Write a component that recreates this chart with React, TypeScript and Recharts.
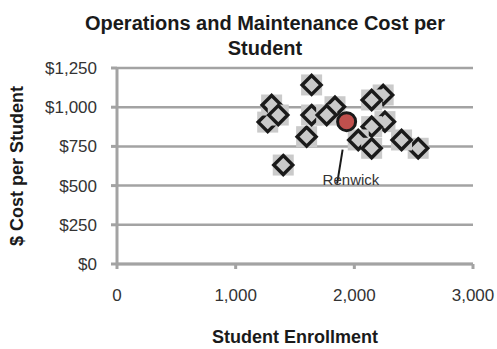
import { ScatterChart, Scatter, XAxis, YAxis, CartesianGrid } from 'recharts';

// district enrollment vs O&M cost per student
const enrollment = [1270, 1303, 1359, 1401, 1598, 1640, 1640, 1837, 1767, 2243, 2146, 2258, 2146, 2033, 2146, 2538, 2398];
const costPerStudent = [905, 1014, 950, 631, 812, 1142, 950, 1003, 950, 1078, 1046, 908, 876, 791, 738, 738, 791];

const highlightName = 'Renwick';
const highlightEnrollment = 1935;
const highlightCost = 908;

const xTicks = [0, 1000, 2000, 3000];
const yTicks = [0, 250, 500, 750, 1000, 1250];

const peers = enrollment.map((x, i) => ({ x, y: costPerStudent[i] }));
const highlight = [{ x: highlightEnrollment, y: highlightCost }];

const FONT = '"Liberation Sans", Arial, sans-serif';
const GRID = '#a3a3a3';

function DiamondMarker(props: any) {
  const { cx, cy } = props;
  const h = 9.5;
  return (
    <g>
      <rect x={cx - 10.5} y={cy - 10.5} width={21} height={21} fill="#cacaca" />
      <polygon
        points={`${cx},${cy - h} ${cx + h},${cy} ${cx},${cy + h} ${cx - h},${cy}`}
        fill="#cacaca"
        stroke="#1a1a1a"
        strokeWidth={3.4}
      />
    </g>
  );
}

function HighlightMarker(props: any) {
  const { cx, cy } = props;
  return (
    <g>
      <circle cx={cx} cy={cy} r={9} fill="#c0504d" stroke="#1a1a1a" strokeWidth={3} />
      <line x1={cx - 4} y1={cy + 28} x2={cx - 9.5} y2={cy + 62} stroke="#1a1a1a" strokeWidth={2} />
      <text x={cx - 24} y={cy + 63} fontSize={15} fontFamily={FONT} fill="#333">
        {highlightName}
      </text>
    </g>
  );
}

export default function App() {
  return (
    <div style={{ position: 'absolute', left: 0, top: 0, background: '#fff' }}>
      <ScatterChart width={497} height={349} margin={{ top: 68, right: 24, bottom: 0, left: 0 }}>
        <text x={265} y={30} textAnchor="middle" fontSize={20} fontWeight="bold" fontFamily={FONT} fill="#1a1a1a">
          Operations and Maintenance Cost per
        </text>
        <text x={265} y={55} textAnchor="middle" fontSize={20} fontWeight="bold" fontFamily={FONT} fill="#1a1a1a">
          Student
        </text>
        <CartesianGrid vertical={false} stroke={GRID} strokeWidth={2.5} />
        <XAxis
          type="number"
          dataKey="x"
          domain={[0, 3000]}
          ticks={xTicks}
          height={85}
          tickSize={5}
          tickMargin={20}
          stroke={GRID}
          strokeWidth={3}
          tick={{ fontSize: 17, fill: '#333', fontFamily: FONT }}
          tickFormatter={(v: number) => v.toLocaleString('en-US')}
          label={{ value: 'Student Enrollment', position: 'insideBottom', offset: 6, style: { fontSize: 18, fontWeight: 'bold', fill: '#1a1a1a', fontFamily: FONT } }}
        />
        <YAxis
          type="number"
          dataKey="y"
          domain={[0, 1250]}
          ticks={yTicks}
          width={117}
          tickSize={6}
          tickMargin={14}
          stroke={GRID}
          strokeWidth={3}
          tick={{ fontSize: 17, fill: '#333', fontFamily: FONT }}
          tickFormatter={(v: number) => `$${v.toLocaleString('en-US')}`}
          label={{ value: '$ Cost per Student', angle: -90, position: 'insideLeft', offset: 17, style: { textAnchor: 'middle', fontSize: 18, fontWeight: 'bold', fill: '#1a1a1a', fontFamily: FONT } }}
        />
        <Scatter data={peers} shape={DiamondMarker} isAnimationActive={false} />
        <Scatter data={highlight} shape={HighlightMarker} isAnimationActive={false} />
      </ScatterChart>
    </div>
  );
}
